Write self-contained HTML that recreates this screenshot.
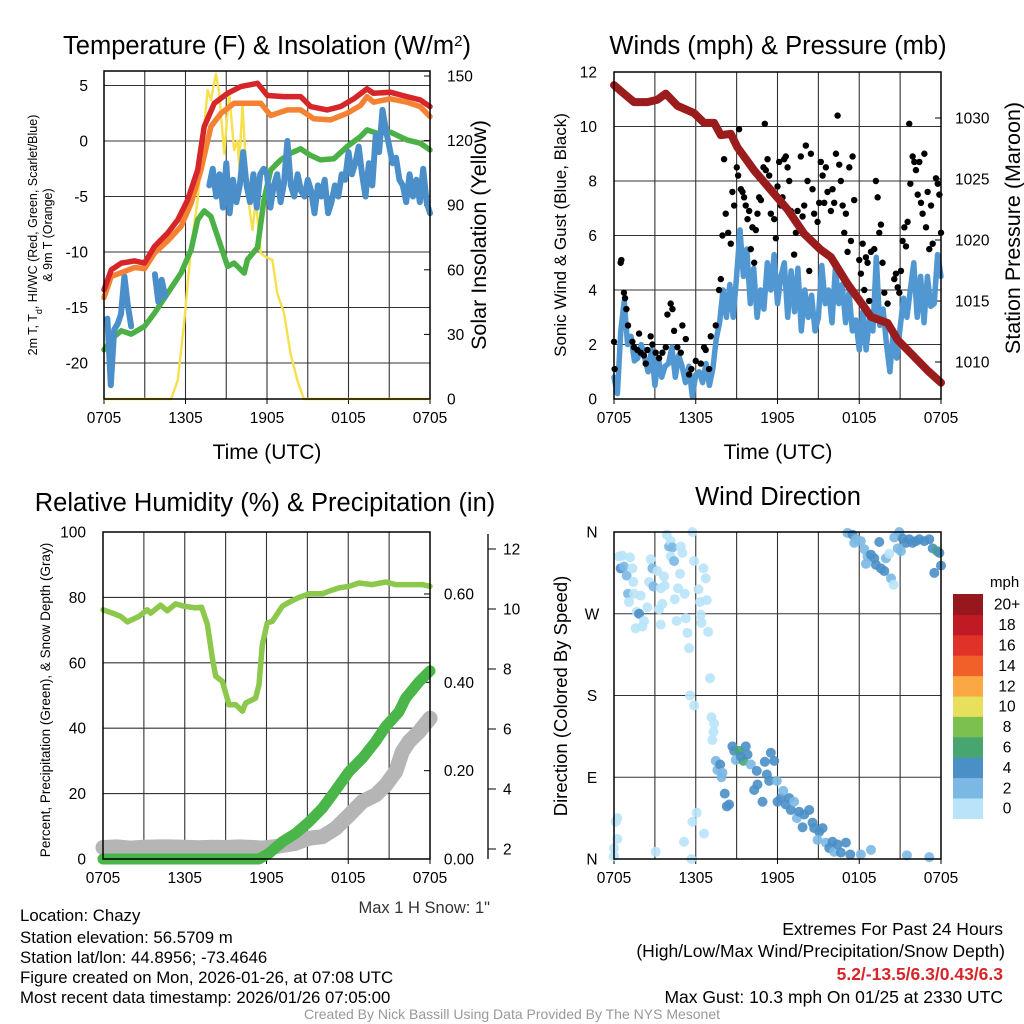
<!DOCTYPE html>
<html><head><meta charset="utf-8"><style>
body{margin:0;background:#fff;}
svg{display:block;font-family:"Liberation Sans",sans-serif;}
</style></head><body>
<svg id="fig" width="1024" height="1024" viewBox="0 0 1024 1024" xmlns="http://www.w3.org/2000/svg">
<text x="267" y="54" font-size="25.5" text-anchor="middle">Temperature (F) &amp; Insolation (W/m<tspan baseline-shift="super" font-size="15">2</tspan>)</text>
<text x="778" y="54" font-size="25.5" text-anchor="middle">Winds (mph) &amp; Pressure (mb)</text>
<text x="265" y="511" font-size="25.5" text-anchor="middle">Relative Humidity (%) &amp; Precipitation (in)</text>
<text x="778" y="505" font-size="25.5" text-anchor="middle">Wind Direction</text>
<text x="267" y="459" font-size="21" text-anchor="middle">Time (UTC)</text>
<text x="778" y="459" font-size="21" text-anchor="middle">Time (UTC)</text>
<text transform="translate(37,235) rotate(-90)" font-size="12.5" text-anchor="middle">2m T, T<tspan baseline-shift="sub" font-size="9">d</tspan>, HI/WC (Red, Green, Scarlet/Blue)</text>
<text transform="translate(52,235) rotate(-90)" font-size="12.5" text-anchor="middle">&amp; 9m T (Orange)</text>
<text transform="translate(486,235) rotate(-90)" font-size="21.5" text-anchor="middle">Solar Insolation (Yellow)</text>
<text transform="translate(566,235) rotate(-90)" font-size="17" text-anchor="middle">Sonic Wind &amp; Gust (Blue, Black)</text>
<text transform="translate(1020,228) rotate(-90)" font-size="21.5" text-anchor="middle">Station Pressure (Maroon)</text>
<text transform="translate(50,700) rotate(-90)" font-size="13.5" text-anchor="middle">Percent, Precipitation (Green), &amp; Snow Depth (Gray)</text>
<text transform="translate(567,696) rotate(-90)" font-size="18.5" text-anchor="middle">Direction (Colored By Speed)</text>
<text x="490" y="913" font-size="16.5" fill="#333" text-anchor="end">Max 1 H Snow: 1"</text>
<g font-size="16.8">
<text x="20" y="921">Location: Chazy</text>
<text x="20" y="943">Station elevation: 56.5709 m</text>
<text x="20" y="963">Station lat/lon: 44.8956; -73.4646</text>
<text x="20" y="983">Figure created on Mon, 2026-01-26, at 07:08 UTC</text>
<text x="20" y="1003">Most recent data timestamp: 2026/01/26 07:05:00</text>
</g>
<g font-size="17.5" text-anchor="end">
<text x="1003" y="935">Extremes For Past 24 Hours</text>
<text x="1005" y="957">(High/Low/Max Wind/Precipitation/Snow Depth)</text>
<text x="1003" y="980" fill="#d7262a" font-weight="bold">5.2/-13.5/6.3/0.43/6.3</text>
<text x="1003" y="1003">Max Gust: 10.3 mph On 01/25 at 2330 UTC</text>
</g>
<text x="512" y="1019" font-size="14" fill="#999" text-anchor="middle">Created By Nick Bassill Using Data Provided By The NYS Mesonet</text>
</svg>
<script>
// ---------- DATA ----------
const xTickLabels = ["0705","1305","1905","0105","0705"];
// Panel 1
const tempTicks = [5,0,-5,-10,-15,-20];
const solarTicks = [150,120,90,60,30,0];
const redH = [0,0.54,1.27,2.25,2.98,3.72,4.69,5.43,6.16,6.9,7.38,8.12,9.1,10.07,11.3,12.03,13.25,14.47,15.21,16.43,17.41,18.39,19.36,19.85,21.08,22.3,23.28,24];
const redV = [-13.4,-11.6,-11,-10.8,-11,-9.5,-8.3,-7.1,-5.3,-2.6,1.3,3.4,4.3,4.9,5.2,4.1,4,4,3.1,2.8,3.1,3.8,4.7,4.3,4.4,4,3.7,3.1];
const orangeH = [0,0.54,2.25,2.98,3.72,4.69,5.67,6.41,7.14,7.87,8.61,9.58,10.32,11.54,12.27,13.5,14.47,15.45,16.67,17.9,18.88,19.36,19.85,21.08,22.3,23.28,24];
const orangeV = [-14.1,-12.2,-11.4,-11.5,-10.1,-9,-7.7,-5.6,-2.6,1.3,2.5,3.4,3.4,3.4,2.3,2.8,2.8,2,1.9,2.5,3.2,4,3.5,3.8,3.5,3.1,2.2];
const dewH = [0,0.78,1.27,2,2.98,3.72,4.69,5.67,6.41,6.9,7.38,7.87,8.36,9.1,9.58,10.32,10.56,11.3,11.78,12.27,13.01,13.74,14.47,15.21,15.94,16.92,17.9,18.88,19.36,20.1,21.08,22.3,23.28,24];
const dewV = [-18.8,-17.6,-17.1,-17.4,-16.7,-15.5,-13.7,-11.9,-9.8,-7.1,-6.3,-6.8,-8.6,-11.3,-11,-11.9,-10.7,-9.6,-5.3,-2.6,-1.7,-1.1,-0.7,-1.3,-1.7,-1.6,-0.5,0.4,1,0.7,0.8,0.1,-0.2,-0.8];
// wind chill, every 15 minutes (null = missing)
const chillV = [null,-16,-22,-17,-16.5,-15.6,-12.2,-14.8,-16.7,null,null,-16.3,null,null,null,-12,-14.5,-12.5,-14,null,-11.3,null,null,null,null,null,null,null,null,null,null,
-4,-2.5,-5,-3,-6,-2,-6.5,-3.5,-5.5,-4,-1,-4,-5.5,-3,-6,-3,-2.5,-3,-6,-4,-3,-5.5,-3.8,0,-4,-5,-3,-4.5,-5,-3.5,-4.5,-6.5,-4,-5,-3.5,-6.5,-5.5,-4,-5,-3,-3.5,-1,-3,-2,-0.5,-3,-5,-2,-4,0.5,-1,2.8,1,-0.5,-2,-1.5,-3.5,-4,-5.5,-3,-5,-3.5,-5.5,-2.5,-5.5,-6.5];
const solarH = [0,4.94,5.43,5.92,6.41,6.89,7.38,7.63,7.87,8.24,8.48,8.85,9.22,9.58,9.83,9.95,10.2,10.56,10.93,11.17,11.54,11.9,12.4,12.76,13.25,13.74,14.23,14.72,24];
const solarV = [0,0,8.8,36.7,70.7,92.4,126.5,143.5,138.9,151,142,114,142,115.6,120,108,137,95.5,78.5,92.4,67.7,66,64.6,49,40,21,8.8,0,0];
// Panel 2
const windTicks = [0,2,4,6,8,10,12];
const presTicks = [1030,1025,1020,1015,1010];
const windV = [0.8,0.2,2.5,3.6,2,2.3,1.4,1.5,2,1.5,1,1.8,0.5,1.5,0.8,1.2,1.3,1.9,0.8,1.6,1.2,0.6,1.2,0.1,0.9,1,0.6,1.3,0.5,1.1,2.2,2.8,4,3,4.2,3,4.5,6.2,4.5,5.5,3.5,4.8,3,4,3.3,5,4,5.3,3.5,4.5,5,3,4.7,3.2,4.8,2.5,4,3,3.8,2.5,3,4.9,3.5,4,2.8,4.8,3.5,4.2,2.8,3.9,2.5,2.9,1.8,3.2,1.8,3,2.5,5.2,2.7,3.3,2,1,2.5,1.5,2.6,3.7,3,4,5,3,4.5,2.8,4.5,3.4,3.5,5.3,4.5];
const presH = [0,0.73,1.47,2.45,3.18,3.8,4.65,5.88,6.61,7.35,7.84,8.57,9.06,10.29,11.51,12.74,13.96,15.18,15.92,17.14,18.37,18.86,20.08,20.82,21.8,23.02,24];
const presV = [1032.7,1032,1031.3,1031.3,1031.5,1032,1031,1030.4,1029.6,1029.6,1028.6,1028.7,1027.6,1025.7,1024.1,1022.5,1020.5,1019.2,1018.6,1016.4,1014.5,1013.7,1013.2,1011.8,1010.7,1009.3,1008.3];
const gustH = [0,0.05,0.49,0.54,0.73,0.81,0.91,1.03,1.35,1.47,1.71,1.84,1.96,2.2,2.33,2.45,2.69,2.82,3.06,3.31,3.55,3.8,3.92,4.16,4.29,4.41,4.65,4.9,5.02,5.27,5.51,5.68,6,6.37,6.61,6.73,6.98,7.1,7.47,7.71,7.84,7.96,8.08,8.2,8.38,8.57,8.69,8.82,9.01,9.11,9.18,9.31,9.43,9.55,9.67,9.8,9.92,10.04,10.16,10.29,10.41,10.53,10.65,10.78,10.97,11.07,11.14,11.27,11.39,11.51,11.76,11.88,12,12.12,12.25,12.37,12.49,12.61,12.74,12.86,12.98,13.22,13.35,13.47,13.71,13.84,13.96,14.08,14.2,14.33,14.45,14.57,14.69,14.94,15.06,15.18,15.31,15.43,15.55,15.67,15.92,16.04,16.16,16.29,16.41,16.53,16.65,16.78,16.9,17.02,17.14,17.27,17.39,17.51,17.63,18,18.12,18.25,18.37,18.49,18.61,18.73,18.86,19.1,19.22,19.35,19.47,19.59,19.71,19.84,20.08,20.57,20.69,20.82,20.94,21.06,21.18,21.31,21.43,21.55,21.67,21.75,21.92,22.04,22.16,22.29,22.41,22.53,22.65,22.78,22.9,23.02,23.14,23.27,23.39,23.63,23.76,23.88,24];
const gustV = [2.1,1.1,5,5.1,3.9,3.7,3.3,2.7,2.1,1.9,1.8,2.4,1.7,1.6,1.3,1.8,2.3,2,1.7,1.5,1.7,1.9,3.1,3.5,3.3,2.5,1.9,1.7,2.7,2.2,0.9,1.1,1.4,1.3,1.9,1.8,1.1,2.3,2.7,4,4.4,6,8.8,6.8,6.1,5.7,7.6,7.1,8.5,8.2,9.9,7.7,7.6,7.4,7.1,6.6,6.9,5.5,6.3,5,6.2,6.8,7.4,7.3,8.5,10.1,8.4,8.8,8.2,6.8,6.6,5.9,7.8,8.7,7.1,7.4,8.8,8.9,8.5,8,6.9,5.3,6.1,6.9,8.9,6.7,7.1,9.3,8,4.7,9,7.7,6.8,6.5,7.2,8.7,8.2,7.2,8.5,7.6,6.9,7.7,7.2,9,10.4,8.6,8,7.1,6.1,6.8,5.4,8.5,5.8,8.9,7.3,5.1,4.6,5.7,4,5.2,5,3.6,5.4,5.5,8,7.4,6.1,6.4,5,3.9,3.5,4.4,4.6,4.1,3.9,4.7,5.8,6.3,5.6,6.5,10.1,7.9,8.9,8.7,8.4,7.5,8.7,7.2,6.8,9,6.3,7.6,5.5,7.1,5.7,8.1,7.9,7.5,6.1];
// Panel 3
const rhTicks = [0,20,40,60,80,100];
const precipTicks = [0,0.2,0.4,0.6];
const precipTickLabels = ["0.00","0.20","0.40","0.60"];
const snowTicks = [2,4,6,8,10,12];
const rhH = [0,0.69,1.3,1.79,2.64,3.25,3.5,4.23,4.72,5.33,5.94,6.8,7.24,7.66,8.02,8.27,8.76,9.25,9.74,10.23,10.47,11.2,11.45,11.69,12.06,12.43,13.16,13.65,14.39,15.12,16.1,16.59,17.32,18.06,18.79,19.77,20.75,21.48,22.46,23.44,24];
const rhV = [76.2,75.2,74.2,72.5,74.2,76.2,75.2,77.6,75.9,78,77.3,76.8,77,71.7,61.5,55.9,54.3,47.2,47.2,45.2,47.7,49.2,53.3,65.5,72.2,72.7,77.3,78.5,80,81.1,81.1,81.9,82.9,83.4,84.4,83.9,84.7,83.9,83.9,83.9,83.4];
const precipH = [0,11.45,12.18,13.16,14.14,15.12,16.1,17.08,18.06,19.03,20.01,20.75,21.72,22.21,23.19,24];
const precipV = [0,0,0.013,0.039,0.058,0.084,0.115,0.156,0.198,0.228,0.266,0.3,0.333,0.364,0.401,0.426];
const snowH = [0,1,2,3,4,5,6,7,8,9,10,11,11.7,12.67,14.14,15.12,16.1,17.08,18.06,19.03,20.01,20.75,21.48,21.97,22.46,23.19,24];
const snowV = [2.05,2.07,2.03,2.06,2.07,2.07,2.06,2.04,2.06,2.05,2.07,2.05,2.03,2.08,2.19,2.36,2.41,2.69,3.13,3.58,3.8,4.13,4.58,5.24,5.58,5.91,6.36];
// Panel 4
const dirLabels = ["N","E","S","W","N"];
const dirTicks = [0,90,180,270,360];
const dirH = [0.37,0.61,0.49,0.73,0.93,1.18,1.35,1.42,1.03,1.47,1.96,1.1,1.67,1.84,2.2,1.59,2.08,2.45,2.69,2.82,2.57,2.89,3.18,3.31,3.43,3.55,3.67,3.72,3.43,3.87,4.04,4.16,4.29,4.16,4.41,4.9,5.02,4.85,4.7,4.46,4.6,5.19,5.27,5.39,5.51,5.76,5.88,6.2,6.32,6.37,6.42,6.56,6.73,6.81,6.91,7.05,5.58,5.88,7.15,7.35,7.3,7.22,7.47,7.59,7.79,7.89,7.96,8.13,8.28,8.45,8.69,8.82,8.94,9.18,9.5,9.31,9.67,9.8,10.04,10.48,10.29,10.53,10.9,11.07,11.22,11.39,11.51,11.76,11.95,12,12.25,12.42,12.61,12.86,12.98,13.22,13.42,13.59,13.84,13.96,14.33,14.57,14.69,15.06,14.94,15.31,15.55,15.8,16.04,16.16,16.41,16.65,17.02,17.34,18.12,18.86,21.5,23.14,0.24,0.12,0.24,0,0,3.06,5.14,5.68,5.76,6.07,6.61,17.14,17.51,17.63,17.76,18.12,18.37,18.61,18.49,18.86,19.1,19.22,19.47,19.59,19.84,19.96,20.2,20.33,20.52,20.57,20.82,20.94,21.06,21.18,21.43,21.67,21.92,22.16,22.41,22.78,23.14,23.39,23.71,23.88,24,23.51];
const dirDeg = [333,334,320,322,312,332,320,305,292,292,290,283,272,270,262,254,256,277,330,320,305,300,317,275,258,281,311,301,298,357,344,350,343,333,328,344,337,314,298,286,262,292,265,249,232,360,328,297,283,269,260,320,309,285,250,199,180,169,156,149,140,131,108,98,104,90,95,72,58,60,124,119,109,119,108,113,124,115,104,97,76,82,63,107,93,86,117,108,86,63,67,75,60,67,54,63,45,52,35,49,54,40,34,30,21,34,18,12,19,8,16,7,18,5,5,10,4,2,45,41,22,12,3,8,19,0,41,51,28,359,357,348,352,350,341,333,325,335,331,324,349,320,317,331,336,309,302,354,342,360,339,353,348,352,348,350,352,350,352,342,339,337,323,315];
const dirSpd = [1,1,5,3,3,1,1,1,3,1,1,1,1,5,1,1,1,1,1,3,1,3,1,1,1,1,1,1,1,1,3,1,3,1,3,1,1,1,1,1,1,1,1,1,1,1,1,1,1,1,1,1,1,1,1,1,1,1,1,1,1,1,3,3,5,3,3,5,5,5,5,5,3,7,7,5,5,5,3,5,5,5,5,5,5,5,5,5,3,5,5,3,5,5,5,3,3,5,5,5,5,5,5,5,3,5,3,5,5,3,5,5,5,5,3,3,3,3,1,1,1,1,1,1,1,1,1,1,1,3,5,3,3,3,3,3,3,5,5,5,5,5,5,3,1,3,1,3,3,3,3,5,5,5,5,5,5,5,5,5,7,5,5,5];
const cbLabels = ["0","2","4","6","8","10","12","14","16","18","20+"];
const cbColors = ["#b8e3f8","#7bb8e4","#4a8fc6","#47a670","#7cc150","#e6e05c","#f9a844","#f06028","#e03228","#c01b24","#96171c"];

// ---------- DRAWING ----------
const NS = "http://www.w3.org/2000/svg";
const svg = document.getElementById("fig");
function mk(tag, attrs, parent){
  const e = document.createElementNS(NS, tag);
  for (const k in attrs) e.setAttribute(k, attrs[k]);
  (parent||svg).appendChild(e);
  return e;
}
function linScale(d0,d1,r0,r1){ return v => r0 + (v-d0)/(d1-d0)*(r1-r0); }
function pathFrom(xs, ys, sx, sy){
  let d = "", pen = false;
  for (let i=0;i<xs.length;i++){
    if (ys[i]===null || ys[i]===undefined){ pen=false; continue; }
    d += (pen?"L":"M") + sx(xs[i]).toFixed(1) + "," + sy(ys[i]).toFixed(1);
    pen = true;
  }
  return d;
}
function frame(L,T,R,B,g){
  const sx = linScale(0,24,L,R);
  for (let h=3; h<24; h+=3){
    const ln = mk("line",{x1:sx(h),x2:sx(h),y1:T,y2:B,stroke:"#333","stroke-width":1.1},g);
    
    
  }
  xTickLabels.forEach((lab,i)=>{
    const t = mk("text",{x:sx(i*6),y:B+24,"font-size":15.5,"text-anchor":"middle"},g);
    t.textContent = lab;
    
    
    const tk = mk("line",{x1:sx(i*6),x2:sx(i*6),y1:B,y2:B+5,stroke:"#000"},g);
    
    
  });
  return sx;
}
function border(L,T,R,B,g){
  const r = mk("rect",{x:L,y:T,width:R-L,height:B-T,fill:"none",stroke:"#000","stroke-width":1.5},g);
  
  
}
function hgrid(vals,sy,L,R,g,labelX,anchor,labels){
  vals.forEach((v,i)=>{
    const ln = mk("line",{x1:L,x2:R,y1:sy(v),y2:sy(v),stroke:"#333","stroke-width":1.1},g);
    
    
    const t = mk("text",{x:labelX,y:sy(v)+5.5,"font-size":15.5,"text-anchor":anchor},g);
    t.textContent = labels?labels[i]:String(v);
    
    
  });
}
function rightTicks(vals,sy,R,g,labelX,labels,anchor){
  vals.forEach((v,i)=>{
    const tk = mk("line",{x1:R-6,x2:R,y1:sy(v),y2:sy(v),stroke:"#000"},g);
    
    
    const t = mk("text",{x:labelX,y:sy(v)+5.5,"font-size":15.5,"text-anchor":anchor||"start"},g);
    t.textContent = labels?labels[i]:String(v);
    
    
  });
}
function series(xs,ys,sx,sy,color,w,g,name){
  const p = mk("path",{d:pathFrom(xs,ys,sx,sy),fill:"none",stroke:color,"stroke-width":w,"stroke-linejoin":"round","stroke-linecap":"round"},g);
  
  
  return p;
}

// Panel 1
(function(){
  const L=104,T=71,R=430,B=399;
  const g = mk("g",{});
  
  
  const sx = frame(L,T,R,B,g);
  const sy = linScale(0,-5,141,196.5);
  const sy2 = linScale(0,150,399,76);
  hgrid(tempTicks,sy,L,R,g,88,"end");
  rightTicks(solarTicks,sy2,R,g,447);
  const qh = chillV.map((v,i)=>i*0.25);
  series(solarH,solarV,sx,sy2,"#f7e04a",2.4,g,"insolation-line");
  series(dewH,dewV,sx,sy,"#4bb045",5.5,g,"dewpoint-line");
  series(qh,chillV,sx,sy,"#4a8fc9",6,g,"wind-chill-line");
  series(orangeH,orangeV,sx,sy,"#f58233",5.5,g,"9m-temperature-line");
  series(redH,redV,sx,sy,"#d7262a",5.5,g,"2m-temperature-line");
  border(L,T,R,B,g);
})();

// Panel 2
(function(){
  const L=614,T=72,R=941,B=399;
  const g = mk("g",{});
  
  
  const sx = frame(L,T,R,B,g);
  const sy = linScale(0,12,399,72);
  const sy2 = linScale(1010,1030,362,118);
  hgrid(windTicks,sy,L,R,g,597,"end");
  rightTicks(presTicks,sy2,R,g,955);
  const qh = windV.map((v,i)=>i*0.25);
  series(qh,windV,sx,sy,"#5198d2",5.5,g,"sonic-wind-line");
  gustH.forEach((h,i)=>{
    const c = mk("circle",{cx:sx(h),cy:sy(gustV[i]),r:3.2,fill:"#000"},g);
    
    
  });
  series(presH,presV,sx,sy2,"#9b1c1c",8,g,"pressure-line");
  border(L,T,R,B,g);
})();

// Panel 3
(function(){
  const L=103,T=532,R=430,B=859;
  const g = mk("g",{});
  
  
  const sx = frame(L,T,R,B,g);
  const sy = linScale(0,100,859,532);
  const sy2 = linScale(0,0.6,859,594);
  const sy3 = linScale(2,12,849,549);
  hgrid(rhTicks,sy,L,R,g,86,"end");
  rightTicks(precipTicks,sy2,R,g,474,precipTickLabels,"end");
  const ax = mk("line",{x1:488,x2:488,y1:534,y2:859,stroke:"#000","stroke-width":1.3},g);
  
  
  snowTicks.forEach(v=>{
    const tk = mk("line",{x1:488,x2:496,y1:sy3(v),y2:sy3(v),stroke:"#000"},g);
    
    
    const t = mk("text",{x:503,y:sy3(v)+5.5,"font-size":15.5},g);
    t.textContent = String(v);
    
    
  });
  series(rhH,rhV,sx,sy,"#8cc84b",5.5,g,"relative-humidity-line");
  series(snowH,snowV,sx,sy3,"#b5b5b5",15,g,"snow-depth-line");
  series(precipH,precipV,sx,sy2,"#4ab548",11,g,"precipitation-line");
  border(L,T,R,B,g);
})();

// Panel 4
(function(){
  const L=614,T=532,R=941,B=859;
  const g = mk("g",{});
  
  
  const sx = frame(L,T,R,B,g);
  const sy = linScale(0,360,859,532);
  hgrid(dirTicks,sy,L,R,g,592,"middle",dirLabels);
  dirH.forEach((h,i)=>{
    const idx = Math.min(10, Math.floor(dirSpd[i]/2));
    const c = mk("circle",{cx:sx(h),cy:sy(dirDeg[i]),r:5,fill:cbColors[idx],"fill-opacity":0.9},g);
    
    
  });
  border(L,T,R,B,g);
  const cb = mk("g",{},g);
  
  
  const bh = 20.4, top = 594;
  const mt = mk("text",{x:990,y:587,"font-size":15},cb);
  mt.textContent = "mph";
  
  
  cbColors.forEach((c,i)=>{
    const y = top + (10-i)*bh;
    const r = mk("rect",{x:953,y:y,width:30,height:bh+0.5,fill:c},cb);
    
    
    const t = mk("text",{x:1007,y:y+bh/2+5.5,"font-size":15.5,"text-anchor":"middle"},cb);
    t.textContent = cbLabels[i];
    
    
  });
})();
</script>
</body></html>
